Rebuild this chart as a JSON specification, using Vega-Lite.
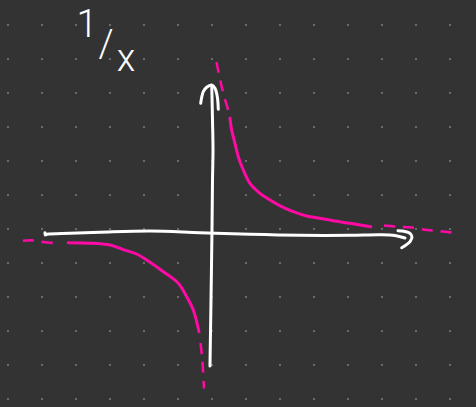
{
  "$schema": "https://vega.github.io/schema/vega-lite/v6.json",
  "width": 476,
  "height": 407,
  "padding": 0,
  "autosize": {"type": "fit", "contains": "padding"},
  "background": "#333333",
  "config": {"view": {"stroke": null}},
  "datasets": {
    "dots": [
      {"u":-6,"v":6},{"u":-5,"v":6},{"u":-4,"v":6},{"u":-3,"v":6},{"u":-2,"v":6},{"u":-1,"v":6},{"u":0,"v":6},{"u":1,"v":6},{"u":2,"v":6},{"u":3,"v":6},{"u":4,"v":6},{"u":5,"v":6},{"u":6,"v":6},{"u":7,"v":6},
      {"u":-6,"v":5},{"u":-5,"v":5},{"u":-4,"v":5},{"u":-3,"v":5},{"u":-2,"v":5},{"u":-1,"v":5},{"u":0,"v":5},{"u":1,"v":5},{"u":2,"v":5},{"u":3,"v":5},{"u":4,"v":5},{"u":5,"v":5},{"u":6,"v":5},{"u":7,"v":5},
      {"u":-6,"v":4},{"u":-5,"v":4},{"u":-4,"v":4},{"u":-3,"v":4},{"u":-2,"v":4},{"u":-1,"v":4},{"u":0,"v":4},{"u":1,"v":4},{"u":2,"v":4},{"u":3,"v":4},{"u":4,"v":4},{"u":5,"v":4},{"u":6,"v":4},{"u":7,"v":4},
      {"u":-6,"v":3},{"u":-5,"v":3},{"u":-4,"v":3},{"u":-3,"v":3},{"u":-2,"v":3},{"u":-1,"v":3},{"u":0,"v":3},{"u":1,"v":3},{"u":2,"v":3},{"u":3,"v":3},{"u":4,"v":3},{"u":5,"v":3},{"u":6,"v":3},{"u":7,"v":3},
      {"u":-6,"v":2},{"u":-5,"v":2},{"u":-4,"v":2},{"u":-3,"v":2},{"u":-2,"v":2},{"u":-1,"v":2},{"u":0,"v":2},{"u":1,"v":2},{"u":2,"v":2},{"u":3,"v":2},{"u":4,"v":2},{"u":5,"v":2},{"u":6,"v":2},{"u":7,"v":2},
      {"u":-6,"v":1},{"u":-5,"v":1},{"u":-4,"v":1},{"u":-3,"v":1},{"u":-2,"v":1},{"u":-1,"v":1},{"u":0,"v":1},{"u":1,"v":1},{"u":2,"v":1},{"u":3,"v":1},{"u":4,"v":1},{"u":5,"v":1},{"u":6,"v":1},{"u":7,"v":1},
      {"u":-6,"v":0},{"u":-5,"v":0},{"u":-4,"v":0},{"u":-3,"v":0},{"u":-2,"v":0},{"u":-1,"v":0},{"u":0,"v":0},{"u":1,"v":0},{"u":2,"v":0},{"u":3,"v":0},{"u":4,"v":0},{"u":5,"v":0},{"u":6,"v":0},{"u":7,"v":0},
      {"u":-6,"v":-1},{"u":-5,"v":-1},{"u":-4,"v":-1},{"u":-3,"v":-1},{"u":-2,"v":-1},{"u":-1,"v":-1},{"u":0,"v":-1},{"u":1,"v":-1},{"u":2,"v":-1},{"u":3,"v":-1},{"u":4,"v":-1},{"u":5,"v":-1},{"u":6,"v":-1},{"u":7,"v":-1},
      {"u":-6,"v":-2},{"u":-5,"v":-2},{"u":-4,"v":-2},{"u":-3,"v":-2},{"u":-2,"v":-2},{"u":-1,"v":-2},{"u":0,"v":-2},{"u":1,"v":-2},{"u":2,"v":-2},{"u":3,"v":-2},{"u":4,"v":-2},{"u":5,"v":-2},{"u":6,"v":-2},{"u":7,"v":-2},
      {"u":-6,"v":-3},{"u":-5,"v":-3},{"u":-4,"v":-3},{"u":-3,"v":-3},{"u":-2,"v":-3},{"u":-1,"v":-3},{"u":0,"v":-3},{"u":1,"v":-3},{"u":2,"v":-3},{"u":3,"v":-3},{"u":4,"v":-3},{"u":5,"v":-3},{"u":6,"v":-3},{"u":7,"v":-3},
      {"u":-6,"v":-4},{"u":-5,"v":-4},{"u":-4,"v":-4},{"u":-3,"v":-4},{"u":-2,"v":-4},{"u":-1,"v":-4},{"u":0,"v":-4},{"u":1,"v":-4},{"u":2,"v":-4},{"u":3,"v":-4},{"u":4,"v":-4},{"u":5,"v":-4},{"u":6,"v":-4},{"u":7,"v":-4},
      {"u":-6,"v":-5},{"u":-5,"v":-5},{"u":-4,"v":-5},{"u":-3,"v":-5},{"u":-2,"v":-5},{"u":-1,"v":-5},{"u":0,"v":-5},{"u":1,"v":-5},{"u":2,"v":-5},{"u":3,"v":-5},{"u":4,"v":-5},{"u":5,"v":-5},{"u":6,"v":-5},{"u":7,"v":-5}
    ],
    "white": [
      {"s":"vaxis","o":1,"u":-0.006,"v":4.176},
      {"s":"vaxis","o":2,"u":0.015,"v":3.206},
      {"s":"vaxis","o":3,"u":0.03,"v":2.324},
      {"s":"vaxis","o":4,"u":0.015,"v":1.441},
      {"s":"vaxis","o":5,"u":0.0,"v":-0.029},
      {"s":"vaxis","o":6,"u":-0.029,"v":-2.088},
      {"s":"vaxis","o":7,"u":-0.059,"v":-4.029},
      {"s":"varrow","o":1,"u":-0.332,"v":3.697},
      {"s":"varrow","o":2,"u":-0.256,"v":4.038},
      {"s":"varrow","o":3,"u":-0.156,"v":4.168},
      {"s":"varrow","o":4,"u":-0.009,"v":4.235},
      {"s":"varrow","o":5,"u":0.088,"v":4.138},
      {"s":"varrow","o":6,"u":0.156,"v":3.891},
      {"s":"varrow","o":7,"u":0.185,"v":3.521},
      {"s":"haxis","o":1,"u":-4.912,"v":-0.109},
      {"s":"haxis","o":2,"u":-4.903,"v":-0.176},
      {"s":"haxis","o":3,"u":-4.853,"v":-0.156},
      {"s":"haxis","o":4,"u":-4.176,"v":-0.126},
      {"s":"haxis","o":5,"u":-3.294,"v":-0.097},
      {"s":"haxis","o":6,"u":-1.824,"v":-0.059},
      {"s":"haxis","o":7,"u":-0.353,"v":-0.109},
      {"s":"haxis","o":8,"u":1.118,"v":-0.156},
      {"s":"haxis","o":9,"u":2.588,"v":-0.185},
      {"s":"haxis","o":10,"u":4.059,"v":-0.185},
      {"s":"haxis","o":11,"u":4.941,"v":-0.168},
      {"s":"haxis","o":12,"u":5.382,"v":-0.191},
      {"s":"haxis","o":13,"u":5.676,"v":-0.265},
      {"s":"harrow","o":1,"u":5.471,"v":-0.05},
      {"s":"harrow","o":2,"u":5.676,"v":-0.074},
      {"s":"harrow","o":3,"u":5.824,"v":-0.132},
      {"s":"harrow","o":4,"u":5.882,"v":-0.235},
      {"s":"harrow","o":5,"u":5.824,"v":-0.368},
      {"s":"harrow","o":6,"u":5.706,"v":-0.471},
      {"s":"harrow","o":7,"u":5.579,"v":-0.55}
    ],
    "solid": [
      {"s":"right","o":1,"u":0.529,"v":3.256},
      {"s":"right","o":2,"u":0.579,"v":2.912},
      {"s":"right","o":3,"u":0.676,"v":2.521},
      {"s":"right","o":4,"u":0.774,"v":2.126},
      {"s":"right","o":5,"u":0.921,"v":1.735},
      {"s":"right","o":6,"u":1.118,"v":1.344},
      {"s":"right","o":7,"u":1.412,"v":1.05},
      {"s":"right","o":8,"u":1.706,"v":0.853},
      {"s":"right","o":9,"u":2.05,"v":0.656},
      {"s":"right","o":10,"u":2.391,"v":0.509},
      {"s":"right","o":11,"u":2.785,"v":0.382},
      {"s":"right","o":12,"u":3.176,"v":0.315},
      {"s":"right","o":13,"u":3.568,"v":0.244},
      {"s":"right","o":14,"u":4.059,"v":0.168},
      {"s":"right","o":15,"u":4.668,"v":0.068},
      {"s":"left","o":1,"u":-4.226,"v":-0.403},
      {"s":"left","o":2,"u":-3.491,"v":-0.421},
      {"s":"left","o":3,"u":-3.0,"v":-0.471},
      {"s":"left","o":4,"u":-2.509,"v":-0.638},
      {"s":"left","o":5,"u":-2.215,"v":-0.735},
      {"s":"left","o":6,"u":-1.921,"v":-0.912},
      {"s":"left","o":7,"u":-1.432,"v":-1.256},
      {"s":"left","o":8,"u":-0.991,"v":-1.597},
      {"s":"left","o":9,"u":-0.744,"v":-1.991},
      {"s":"left","o":10,"u":-0.55,"v":-2.382},
      {"s":"left","o":11,"u":-0.382,"v":-3.021}
    ],
    "dashed": [
      {"s":"top","o":1,"u":0.132,"v":4.912},
      {"s":"top","o":2,"u":0.294,"v":4.147},
      {"s":"top","o":3,"u":0.441,"v":3.618},
      {"s":"top","o":4,"u":0.479,"v":3.5},
      {"s":"east","o":1,"u":5.059,"v":0.103},
      {"s":"east","o":2,"u":5.441,"v":0.068},
      {"s":"east","o":3,"u":5.882,"v":0.044},
      {"s":"east","o":4,"u":6.324,"v":-0.029},
      {"s":"east","o":5,"u":6.676,"v":-0.059},
      {"s":"east","o":6,"u":7.088,"v":-0.109},
      {"s":"west","o":1,"u":-5.559,"v":-0.347},
      {"s":"west","o":2,"u":-5.353,"v":-0.332},
      {"s":"west","o":3,"u":-5.176,"v":-0.347},
      {"s":"west","o":4,"u":-4.912,"v":-0.391},
      {"s":"west","o":5,"u":-4.471,"v":-0.432},
      {"s":"bottom","o":1,"u":-0.338,"v":-3.353},
      {"s":"bottom","o":2,"u":-0.294,"v":-3.735},
      {"s":"bottom","o":3,"u":-0.265,"v":-4.147},
      {"s":"bottom","o":4,"u":-0.235,"v":-4.691}
    ],
    "label": [
      {"t":"1","u":-3.676,"v":5.971},
      {"t":"/","u":-3.118,"v":5.382},
      {"t":"x","u":-2.529,"v":4.97}
    ]
  },
  "encoding": {
    "x": {"field":"u","type":"quantitative","scale":{"domain":[-6.235,7.765],"nice":false,"zero":false},"axis":null},
    "y": {"field":"v","type":"quantitative","scale":{"domain":[-5.235,6.735],"nice":false,"zero":false},"axis":null}
  },
  "layer": [
    {
      "data": {"name":"dots"},
      "mark": {"type":"point","shape":"square","size":4,"filled":true,"color":"#6a6a6a","opacity":1}
    },
    {
      "data": {"name":"white"},
      "mark": {"type":"line","color":"#ffffff","strokeWidth":3,"strokeCap":"round","strokeJoin":"round","interpolate":"catmull-rom"},
      "encoding": {"detail":{"field":"s"},"order":{"field":"o","type":"quantitative"}}
    },
    {
      "data": {"name":"solid"},
      "mark": {"type":"line","color":"#ff0aa5","strokeWidth":3,"strokeCap":"round","strokeJoin":"round","interpolate":"catmull-rom"},
      "encoding": {"detail":{"field":"s"},"order":{"field":"o","type":"quantitative"}}
    },
    {
      "data": {"name":"dashed"},
      "mark": {"type":"line","color":"#ff0aa5","strokeWidth":2.5,"strokeDash":[11,8],"interpolate":"catmull-rom"},
      "encoding": {"detail":{"field":"s"},"order":{"field":"o","type":"quantitative"}}
    },
    {
      "data": {"name":"label"},
      "mark": {"type":"text","color":"#ffffff","font":"Roboto","fontSize":38,"fontWeight":300,"align":"center","baseline":"middle"},
      "encoding": {"text":{"field":"t"}}
    }
  ]
}
